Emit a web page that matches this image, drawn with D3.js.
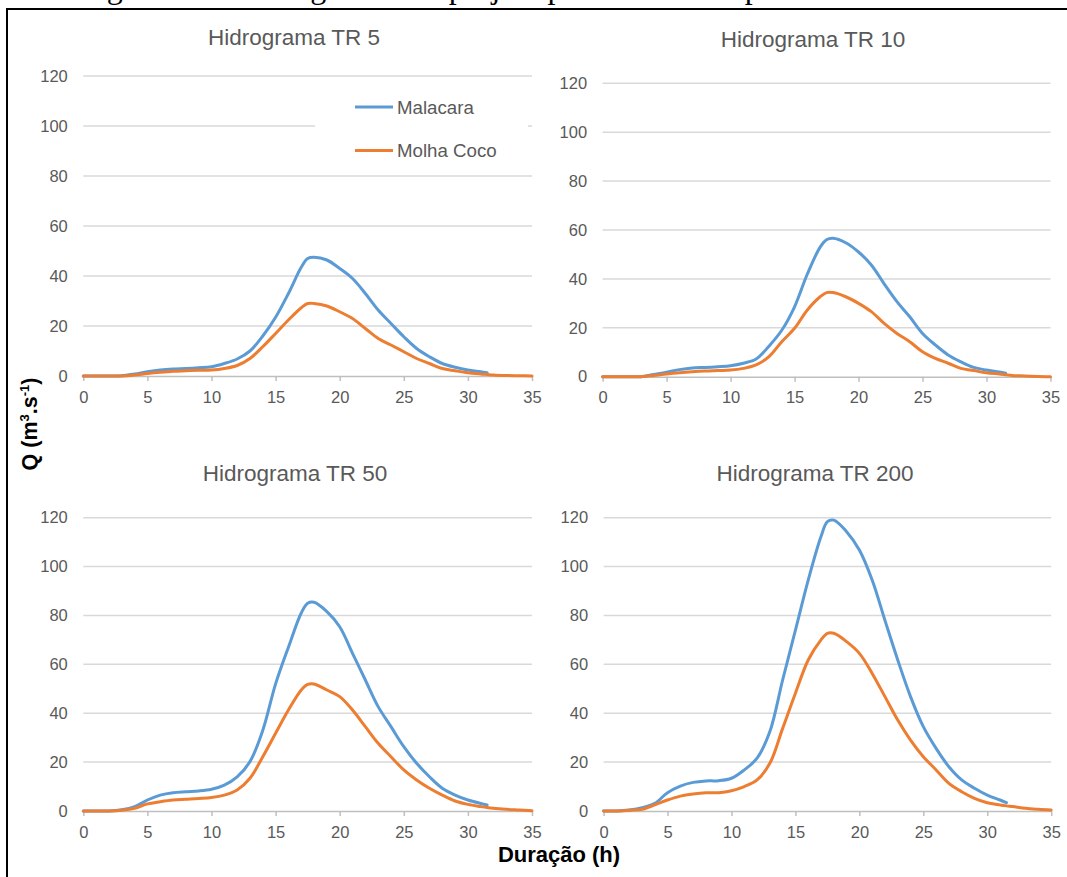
<!DOCTYPE html>
<html>
<head>
<meta charset="utf-8">
<script src="https://cdn.jsdelivr.net/npm/d3@7"></script>
<style>
  html, body { margin: 0; padding: 0; background: #fff; }
  svg { display: block; }
</style>
</head>
<body>
<svg id="chart" width="1067" height="877"></svg>
<script>
// ---------------- DATA ----------------
const hours = [0,1,2,3,4,5,6,7,8,9,10,11,12,13,14,15,16,17,17.5,18,19,20,21,22,23,24,25,26,27,28,29,30,31,31.5,32,33,34,35];
const seriesNames = ["Malacara", "Molha Coco"];
const panelTitles = ["Hidrograma TR 5", "Hidrograma TR 10", "Hidrograma TR 50", "Hidrograma TR 200"];
const xTicks = [0,5,10,15,20,25,30,35];
const yTicks = [0,20,40,60,80,100,120];

const malacaraTR5   = [0,0,0,0.1,0.8,1.7,2.4,2.8,3.0,3.3,3.7,5,6.8,10,16,23.5,33,43.5,47,47.5,46.4,43,39,33,26.4,21,15.7,11,7.7,5,3.5,2.4,1.7,1.3,null,null,null,null];
const molhaCocoTR5  = [0,0,0,0,0.4,1,1.5,1.9,2.1,2.3,2.4,3,4.2,7,11.7,17,22.4,27.3,29,29,28,25.7,23,19,15,12.4,9.7,7,5,3,2.1,1.3,0.8,0.6,0.4,0.2,0.1,0];
const malacaraTR10  = [0,0,0,0,0.9,1.8,2.9,3.6,3.8,4.1,4.5,5.5,7.2,12.5,19,28.6,42,53,56,56.6,54.8,51,45.7,38,30.7,24.5,17.7,13,8.9,6.1,3.8,2.7,1.9,1.4,null,null,null,null];
const molhaCocoTR10 = [0,0,0,0,0.5,1.1,1.6,2,2.3,2.5,2.7,3.4,4.8,8.2,14.3,19.8,27.3,32.7,34.4,34.4,32.7,30,26.6,21.8,17.7,14.3,10.2,7.5,5.5,3.4,2.5,1.6,1.1,0.8,0.5,0.3,0.1,0];
const malacaraTR50  = [0,0,0,0.5,1.8,4.5,6.5,7.5,7.9,8.2,8.9,10.6,14,20.2,33,52,67,81,85,85.4,81.6,75.4,64.5,53.6,42.7,34.5,26.3,19.5,14,9.3,6.5,4.5,3.1,2.5,null,null,null,null];
const molhaCocoTR50 = [0,0,0,0.3,1.1,2.9,3.8,4.5,4.8,5.1,5.5,6.5,8.6,13.4,22.2,31.8,41.3,49.5,51.8,52,49.5,46.8,41.3,34.5,27.7,22.2,16.8,12.7,9.3,6.5,4.1,2.7,1.8,1.4,1.1,0.7,0.4,0.1];
const malacaraTR200 = [0,0,0.4,1.3,3.1,7.5,10.2,11.7,12.3,12.4,13.4,16.8,21.6,32.5,53.6,74,94.5,112.3,118.4,119,114.3,106.8,94.5,78,61.8,46.8,34.5,25.6,18.1,12.7,9.3,6.5,4.5,3.4,null,null,null,null];
const molhaCocoTR200= [0,0,0.3,0.7,2.5,4.5,6.1,7,7.5,7.5,8.3,10,12.7,19.5,33.8,48.2,61.8,70,72.7,72.7,69.3,64.5,56.3,46.8,37.2,29,22.2,16.8,11.3,7.9,5.2,3.4,2.5,2.1,1.8,1.1,0.7,0.4];

const panelSeries = [
  [malacaraTR5, molhaCocoTR5],
  [malacaraTR10, molhaCocoTR10],
  [malacaraTR50, molhaCocoTR50],
  [malacaraTR200, molhaCocoTR200]
];

// ---------------- LAYOUT ----------------
const colors = ["#5b9bd5", "#ed7d31"];
const FONT = "'Liberation Sans', Arial, Helvetica, sans-serif";
const panels = [
  {x0: 83.3,  x1: 532,    yTop: 76,    yBot: 376,   tx: 294, ty: 37},
  {x0: 602.6, x1: 1050.5, yTop: 83.3,  yBot: 376.7, tx: 813, ty: 39},
  {x0: 83.3,  x1: 532,    yTop: 517.7, yBot: 811,   tx: 295, ty: 473},
  {x0: 603.6, x1: 1051.2, yTop: 517.7, yBot: 811,   tx: 815, ty: 473}
];

const svg = d3.select("#chart");

// cut-off caption at the very top of the page
svg.append("text")
  .attr("x", 80).attr("y", -2.5)
  .attr("font-family", "'Liberation Serif', 'Times New Roman', serif")
  .attr("font-size", 32)
  .attr("fill", "#000")
  .text("Figura 10 – Hidrogramas de projeto para diferentes períodos de retorno");

// outer document frame
svg.append("rect")
  .attr("x", 7).attr("y", 9)
  .attr("width", 1100).attr("height", 900)
  .attr("fill", "none").attr("stroke", "#000").attr("stroke-width", 2);

panels.forEach((p, i) => {
  const g = svg.append("g");
  const x = d3.scaleLinear().domain([0, 35]).range([p.x0, p.x1]);
  const y = d3.scaleLinear().domain([0, 120]).range([p.yBot, p.yTop]);

  // gridlines
  g.append("g").selectAll("line")
    .data(yTicks.filter(t => t > 0))
    .join("line")
    .attr("x1", p.x0).attr("x2", p.x1)
    .attr("y1", d => y(d)).attr("y2", d => y(d))
    .attr("stroke", "#d9d9d9").attr("stroke-width", 1.5);

  // y axis labels
  const ya = g.append("g")
    .attr("transform", `translate(${p.x0},0)`)
    .call(d3.axisLeft(y).tickValues(yTicks).tickSize(0).tickPadding(15.5));
  ya.select(".domain").remove();
  ya.selectAll("text")
    .attr("font-family", FONT).attr("font-size", 16.5).attr("fill", "#595959");

  // x axis
  const xa = g.append("g")
    .attr("transform", `translate(0,${p.yBot})`)
    .call(d3.axisBottom(x).tickValues(xTicks).tickSize(5).tickPadding(10).tickSizeOuter(0));
  xa.select(".domain").attr("stroke", "#bfbfbf").attr("stroke-width", 1.5);
  xa.selectAll(".tick line").attr("stroke", "#bfbfbf").attr("stroke-width", 1.5);
  xa.selectAll("text")
    .attr("font-family", FONT).attr("font-size", 16.5).attr("fill", "#595959");

  // title
  g.append("text")
    .attr("x", p.tx).attr("y", p.ty)
    .attr("dy", "0.35em")
    .attr("text-anchor", "middle")
    .attr("font-family", FONT).attr("font-size", 22.5).attr("fill", "#595959")
    .text(panelTitles[i]);

  // legend (only in first panel)
  if (i === 0) {
    g.append("rect")
      .attr("x", 315).attr("y", 86).attr("width", 213).attr("height", 84)
      .attr("fill", "#fff");
    seriesNames.forEach((name, k) => {
      const ly = 107 + k * 43.5;
      g.append("line")
        .attr("x1", 355).attr("x2", 393).attr("y1", ly).attr("y2", ly)
        .attr("stroke", colors[k]).attr("stroke-width", 3);
      g.append("text")
        .attr("x", 397).attr("y", ly).attr("dy", "0.35em")
        .attr("font-family", FONT).attr("font-size", 18.7).attr("fill", "#595959")
        .text(name);
    });
  }

  // lines
  const line = d3.line()
    .defined(d => d[1] !== null)
    .x(d => x(d[0]))
    .y(d => y(d[1]))
    .curve(d3.curveCatmullRom.alpha(0.5));
  panelSeries[i].forEach((vals, k) => {
    g.append("path")
      .datum(hours.map((h, j) => [h, vals[j]]))
      .attr("d", line)
      .attr("fill", "none")
      .attr("stroke", colors[k])
      .attr("stroke-width", 3)
      .attr("stroke-linejoin", "round")
      .attr("stroke-linecap", "round");
  });
});

// axis titles
const yLab = svg.append("text")
  .attr("transform", "translate(37,424) rotate(-90)")
  .attr("text-anchor", "middle")
  .attr("font-family", FONT).attr("font-size", 21.5).attr("font-weight", "bold")
  .attr("fill", "#000");
yLab.append("tspan").text("Q (m");
yLab.append("tspan").attr("font-size", 13).attr("dy", -8).text("3");
yLab.append("tspan").attr("dy", 8).text(".s");
yLab.append("tspan").attr("font-size", 13).attr("dy", -8).text("-1");
yLab.append("tspan").attr("dy", 8).text(")");

svg.append("text")
  .attr("x", 559).attr("y", 862)
  .attr("text-anchor", "middle")
  .attr("font-family", FONT).attr("font-size", 22).attr("font-weight", "bold")
  .attr("fill", "#000")
  .text("Duração (h)");
</script>
</body>
</html>
